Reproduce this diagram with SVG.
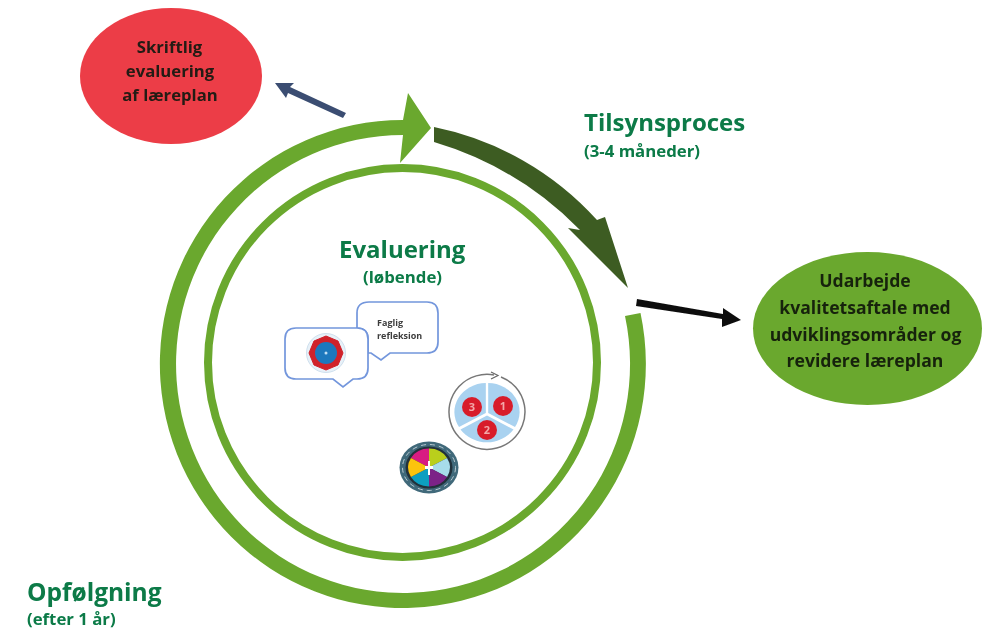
<svg xmlns="http://www.w3.org/2000/svg" width="987" height="629" viewBox="0 0 987 629">
<style>
text{font-family:"Open Sans","Noto Sans","Liberation Sans",sans-serif;font-weight:700}
.h{fill:#087a46;font-size:24px}
.s{fill:#087a46;font-size:16.8px}
.n{fill:#241a12;font-size:16.7px;text-anchor:middle}
.g{fill:#18240c;font-size:17.6px;text-anchor:middle}
.d{font-size:11px;fill:#f3a8a8;text-anchor:middle}
.b{fill:#fff;stroke:#7396dc;stroke-width:1.7}
.t{font-size:9px;fill:#3c3c3c}
</style>
<defs><filter id="soft" x="0" y="0" width="987" height="629" filterUnits="userSpaceOnUse"><feGaussianBlur stdDeviation="0.45"/></filter></defs>
<rect width="987" height="629" fill="#fff"/>
<g filter="url(#soft)">
<g id="connectors">
<path id="outer-ring-arrow" d="M640.500 313A243 244 0 1 1 403 120L408 93L431 128L400 163L403 135A227 229 0 1 0 625 316Z" fill="#6aa82d"/>
<circle id="inner-ring" cx="402.500" cy="362.500" r="194.500" fill="none" stroke="#6aa82d" stroke-width="8"/>
<path id="tilsyn-arrow" d="M434 127A300 300 0 0 1 597 220L605 217L628 288L568 228L580 230A340 340 0 0 0 434 142Z" fill="#3d5c22"/>
<path id="to-red" d="M346 113L290 87L294 83L275 83L286 98L288 93L343 118Z" fill="#3b4e72"/>
<path id="to-green" d="M637 299L723 314L723 308L741 320L722 327L722 319L636 306Z" fill="#111"/>
</g>
<g id="node-skriftlig">
<ellipse cx="171" cy="76" rx="91" ry="68" fill="#ec3e46"/>
<text class="n" x="169.500" y="52.500">Skriftlig</text><text class="n" x="170" y="77">evaluering</text><text class="n" x="170" y="101">af læreplan</text>
</g>
<g id="node-udarbejde">
<ellipse cx="867.500" cy="328.500" rx="114.500" ry="76.500" fill="#6aa82d"/>
<text class="g" x="865" y="287">Udarbejde</text><text class="g" x="865" y="314">kvalitetsaftale med</text><text class="g" x="865.500" y="341">udviklingsområder og</text><text class="g" x="865" y="367">revidere læreplan</text>
</g>
<g id="label-tilsyn"><text class="h" x="584" y="131">Tilsynsproces</text><text class="s" x="584" y="157">(3-4 måneder)</text></g>
<g id="label-evaluering"><text class="h" x="339" y="258">Evaluering</text><text class="s" x="363" y="283">(løbende)</text></g>
<g id="label-opfolgning"><text class="h" x="27" y="601" style="font-size:24.500px">Opfølgning</text><text class="s" x="27" y="625">(efter 1 år)</text></g>
<g id="node-refleksion">
<path class="b" d="M369 302H427Q438 302 438 313V342Q438 353 427 353H390L381 360L371 353H368V339Q368 328 357 328V313Q357 302 369 302Z"/>
<text class="t" x="377" y="326">Faglig</text><text class="t" x="377" y="339">refleksion</text>
</g>
<g id="node-dial">
<path class="b" d="M296 328H357Q368 328 368 339V368Q368 379 357 379H353L343 387L333 379H296Q285 379 285 368V339Q285 328 296 328Z"/>
<circle cx="326" cy="353" r="19.500" fill="#e8f1f8" stroke="#cfe0ee"/>
<polygon points="326,336 338,341 343,353 338,365 326,370 314,365 309,353 314,341" fill="#d0202a" stroke="#d0202a" stroke-linejoin="round" stroke-width="1"/>
<circle cx="326" cy="353" r="11" fill="#1f78bd"/>
<circle cx="326" cy="353" r="1.500" fill="#bfe0f5"/>
</g>
<g id="node-cycle">
<path d="M501 377A38 37.500 0 1 1 494 375" fill="none" stroke="#777" stroke-width="1.500"/>
<path d="M491 372L498 375.500L491 379" fill="none" stroke="#666" stroke-width="1.200"/>
<path d="M485.800 383V413L459 427A32 29 0 0 1 485.800 383Z" fill="#a9d2f0"/>
<path d="M488.200 383V413L515 427A32 29 0 0 0 488.200 383Z" fill="#a9d2f0"/>
<path d="M460.500 429.500L487 415.500L513.500 429.500A32 29 0 0 1 460.500 429.500Z" fill="#a9d2f0"/>
<circle cx="472" cy="407" r="10" fill="#d81e2c"/><circle cx="503" cy="406" r="10" fill="#d81e2c"/><circle cx="487" cy="430" r="10" fill="#d81e2c"/>
<text class="d" x="472" y="411">3</text><text class="d" x="503" y="410">1</text><text class="d" x="487" y="434">2</text>
</g>
<g id="node-wheel">
<ellipse cx="429" cy="467.500" rx="29.500" ry="26" fill="#41697a"/>
<ellipse cx="429" cy="467.500" rx="26.500" ry="23" fill="none" stroke="#b9cad2" stroke-width="1" stroke-dasharray="5 4"/>
<ellipse cx="429" cy="467.500" rx="23.500" ry="21" fill="#22303b"/>
<g transform="translate(429 467.500) scale(.95 .86)">
<path d="M0 0L-19 -11A22 22 0 0 1 0 -22Z" fill="#d81b82"/><path d="M0 0L0 -22A22 22 0 0 1 19 -11Z" fill="#bacf1f"/>
<path d="M0 0L19 -11A22 22 0 0 1 19 11Z" fill="#a7dcea"/><path d="M0 0L19 11A22 22 0 0 1 0 22Z" fill="#7c2287"/>
<path d="M0 0L0 22A22 22 0 0 1 -19 11Z" fill="#0b9fc0"/><path d="M0 0L-19 11A22 22 0 0 1 -19 -11Z" fill="#fcc40f"/>
</g>
<path d="M428 461h2v5h3v3h-3v6h-2v-6h-3v-3h3z" fill="#fff"/>
</g>
</g>
</svg>
